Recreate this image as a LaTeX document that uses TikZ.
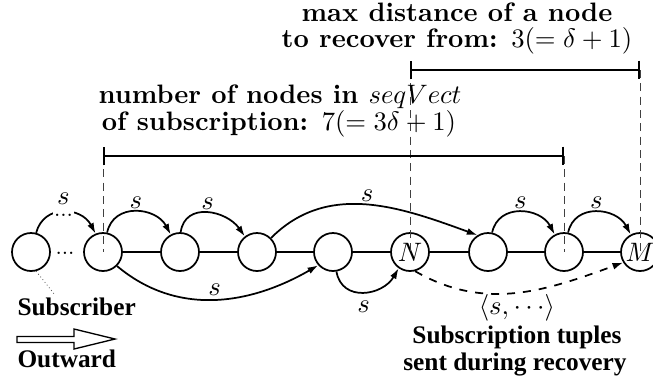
\documentclass[tikz,border=0pt]{standalone}
\usepackage{fontspec}
\newfontfamily\timesfont{Liberation Serif}
\usetikzlibrary{arrows.meta}

\begin{document}
\begin{tikzpicture}[
    x=0.375pt, y=-0.375pt,
    peer/.style={draw, circle, line width=0.65pt, minimum size=14.25pt, inner sep=0pt},
    link/.style={line width=0.65pt},
    hop/.style={line width=0.65pt, -{Latex[length=4pt,width=2.6pt]}},
    hoplabel/.style={inner sep=1pt},
    guide/.style={densely dashed, line width=0.3pt, black!75},
    span/.style={line width=0.7pt, {Bar[width=7pt]}-{Bar[width=7pt]}},
    caption/.style={font=\bfseries, anchor=base, inner sep=0pt},
    note/.style={font=\timesfont\bfseries\fontsize{9.5}{10}\selectfont, anchor=base, inner sep=0pt}
]
\useasboundingbox (0,0) rectangle (653,385);

% ---------- peers along the path ----------
\foreach \n/\x in {p0/31, p1/103, p2/180, p3/257, p4/333, p6/488, p7/564}
    \node[peer] (\n) at (\x,252) {};
\node[peer] (pN) at (410,252) {$N$};
\node[peer] (pM) at (640,252) {$M$};
\node[anchor=base, inner sep=0pt, font=\footnotesize] (gap) at (65,254) {...};

% ---------- guides and spans ----------
\draw[guide] (p1 |- 0,156) -- (p1.center);
\draw[guide] (p7 |- 0,156) -- (p7.center);
\draw[guide] (pN |- 0,70) -- (pN.center);
\draw[guide] (pM |- 0,70) -- (pM.center);
\draw[span] (p1 |- 0,156) -- (p7 |- 0,156);
\draw[span] (pN |- 0,70) -- (pM |- 0,70);

\node[caption] (seqA) at (280,103) {number of nodes in $seqVect$};
\node[caption] (seqB) at (279,130) {of subscription: $7(=3\delta+1)$};
\node[caption] (distA) at (457,21) {max distance of a node};
\node[caption] (distB) at (457,47) {to recover from: $3(=\delta+1)$};

% ---------- links ----------
\foreach \a/\b in {p1/p2, p2/p3, p3/p4, p4/pN, pN/p6, p6/p7, p7/pM}
    \draw[link] (\a) -- (\b);

% ---------- subscription hops ----------
\draw[hop] (p0.75) to[out=75,in=118,looseness=1.3]
    node[fill=white, inner xsep=0.5pt, inner ysep=1.5pt, yshift=-1.2pt, font=\footnotesize] (skip) {...}
    node[hoplabel, above=1.5pt] {$s$} (p1.112);
\draw[hop] (p1.78) to[out=78,in=118,looseness=1.25] node[hoplabel, above] {$s$} (p2.118);
\draw[hop] (p2.88) to[out=82,in=125,looseness=1.25] node[hoplabel, above] {$s$} (p3.128);
\draw[hop] (p6.78) to[out=78,in=118,looseness=1.25] node[hoplabel, above] {$s$} (p7.118);
\draw[hop] (p7.78) to[out=78,in=118,looseness=1.25] node[hoplabel, above] {$s$} (pM.118);
\draw[hop] (p3.45) to[out=45,in=160] node[hoplabel, above] {$s$} (p6.122);
\draw[hop] (p1.-45) to[out=-40,in=-150] node[hoplabel, above] {$s$} (p4.-138);
\draw[hop] (p4.-80) to[out=-80,in=-120,looseness=1.3] node[hoplabel, below=2pt] {$s$} (pN.-125);

% recovery
\draw[hop, dashed] (pN.-75) to[out=-30,in=-160]
    node[below, inner sep=0.5pt] (tuple) {$\langle s,\cdots\rangle$} (pM.-148);
\node[note] (tuplesA) at (517,343) {Subscription tuples};
\node[note] (tuplesB) at (515,370) {sent during recovery};

% ---------- subscriber side ----------
\node[note, anchor=base west] (subscriber) at (17,315) {Subscriber};
\node[note, anchor=base west] (outward) at (17,367) {Outward};
\coordinate (subtop) at (55,295);
\draw[densely dotted, line width=0.3pt, black!70] (p0.-75) -- (subtop);
\draw[line width=0.5pt] (17,336.5) -- (74,336.5) -- (74,329) -- (115,339)
    -- (74,349) -- (74,342.5) -- (17,342.5) -- cycle;

\end{tikzpicture}
\end{document}
